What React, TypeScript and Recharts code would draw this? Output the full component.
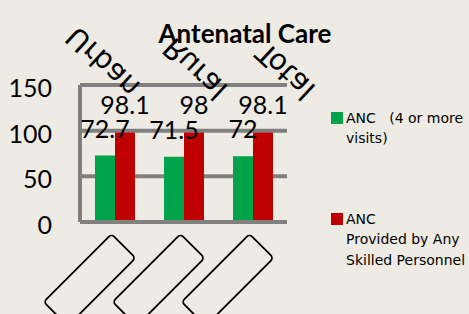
import React from 'react';
import { BarChart, Bar, XAxis, YAxis, CartesianGrid, LabelList } from 'recharts';

const categories = ['Urban', 'Rural', 'Total'];
const ancFourPlus = [72.7, 71.5, 72];
const ancSkilled = [98.1, 98, 98.1];
const yTicks = [0, 50, 100, 150];
const seriesKeys = ['anc4', 'ancSkilled'];
const seriesNames = ['ANC   (4 or more visits)', 'ANC Provided by Any Skilled Personnel'];
const legendLines = [['ANC   (4 or more', 'visits)'], ['ANC', 'Provided by Any', 'Skilled Personnel']];
const seriesColors = ['#00A24A', '#BE0000'];
const title = 'Antenatal Care';

const data = categories.map((name, i) => ({ name, anc4: ancFourPlus[i], ancSkilled: ancSkilled[i] }));

const FONT = 'Lato, "Open Sans", sans-serif';
const WIDE = '"DejaVu Sans", sans-serif';
const GRID = '#808080';

// offsets of the flipped category labels, relative to the tick point on the bottom axis
const topDx = [-37, -9, 15];
const topDy = [-197, -186, -181];

const CategoryTick = (props: any) => {
  const { x, y, payload, index } = props;
  const ax = x + topDx[index];
  const ay = y + topDy[index];
  return (
    <g>
      <rect x={-96} y={0} width={96} height={34} rx={4} fill="none" stroke="#000" strokeWidth={1.8}
        transform={`translate(${x - 3},${y + 12}) rotate(-45)`} />
      <text transform={`translate(${ax},${ay}) rotate(43) scale(1,-1)`} fontSize={29} fontFamily={WIDE} fill="#000">
        {payload.value}
      </text>
    </g>
  );
};

export default function App() {
  return (
    <div style={{ position: 'absolute', left: 0, top: 0, width: 469, height: 314, background: '#EEEBE5', overflow: 'hidden' }}>
      <BarChart width={469} height={314} data={data} margin={{ top: 85, right: 182, bottom: 0, left: 0 }} barGap={0} barSize={20}>
        <CartesianGrid vertical={false} stroke={GRID} strokeWidth={4} />
        <XAxis dataKey="name" height={92} axisLine={{ stroke: GRID, strokeWidth: 4 }} tickLine={false}
          tickSize={0} tickMargin={0} interval={0} tick={<CategoryTick />} />
        <YAxis domain={[0, 150]} ticks={yTicks} width={80} axisLine={{ stroke: GRID, strokeWidth: 4 }} tickLine={false}
          tickSize={0} tickMargin={28} tick={{ fill: '#000', fontSize: 25, fontFamily: FONT, dy: 3 }} />
        {seriesKeys.map((k, i) => (
          <Bar key={k} dataKey={k} name={seriesNames[i]} fill={seriesColors[i]} isAnimationActive={false}>
            <LabelList dataKey={k} position="top" offset={18} fill="#000" fontSize={25} fontFamily={FONT} />
          </Bar>
        ))}
      </BarChart>
      <svg width={469} height={314} style={{ position: 'absolute', left: 0, top: 0, pointerEvents: 'none' }}>
        <text x={245} y={43} textAnchor="middle" fontSize={26} fontWeight="bold" fontFamily={FONT} fill="#000">{title}</text>
        {legendLines.map((lines, i) => {
          const top = i === 0 ? 112 : 213;
          return (
            <g key={i}>
              <rect x={331} y={top} width={12} height={12} fill={seriesColors[i]} />
              {lines.map((ln, j) => (
                <text key={j} x={346} y={top + 10.5 + j * 20.5} fontSize={14} fontFamily={WIDE} fill="#000" style={{ whiteSpace: 'pre' }}>{ln}</text>
              ))}
            </g>
          );
        })}
      </svg>
    </div>
  );
}
